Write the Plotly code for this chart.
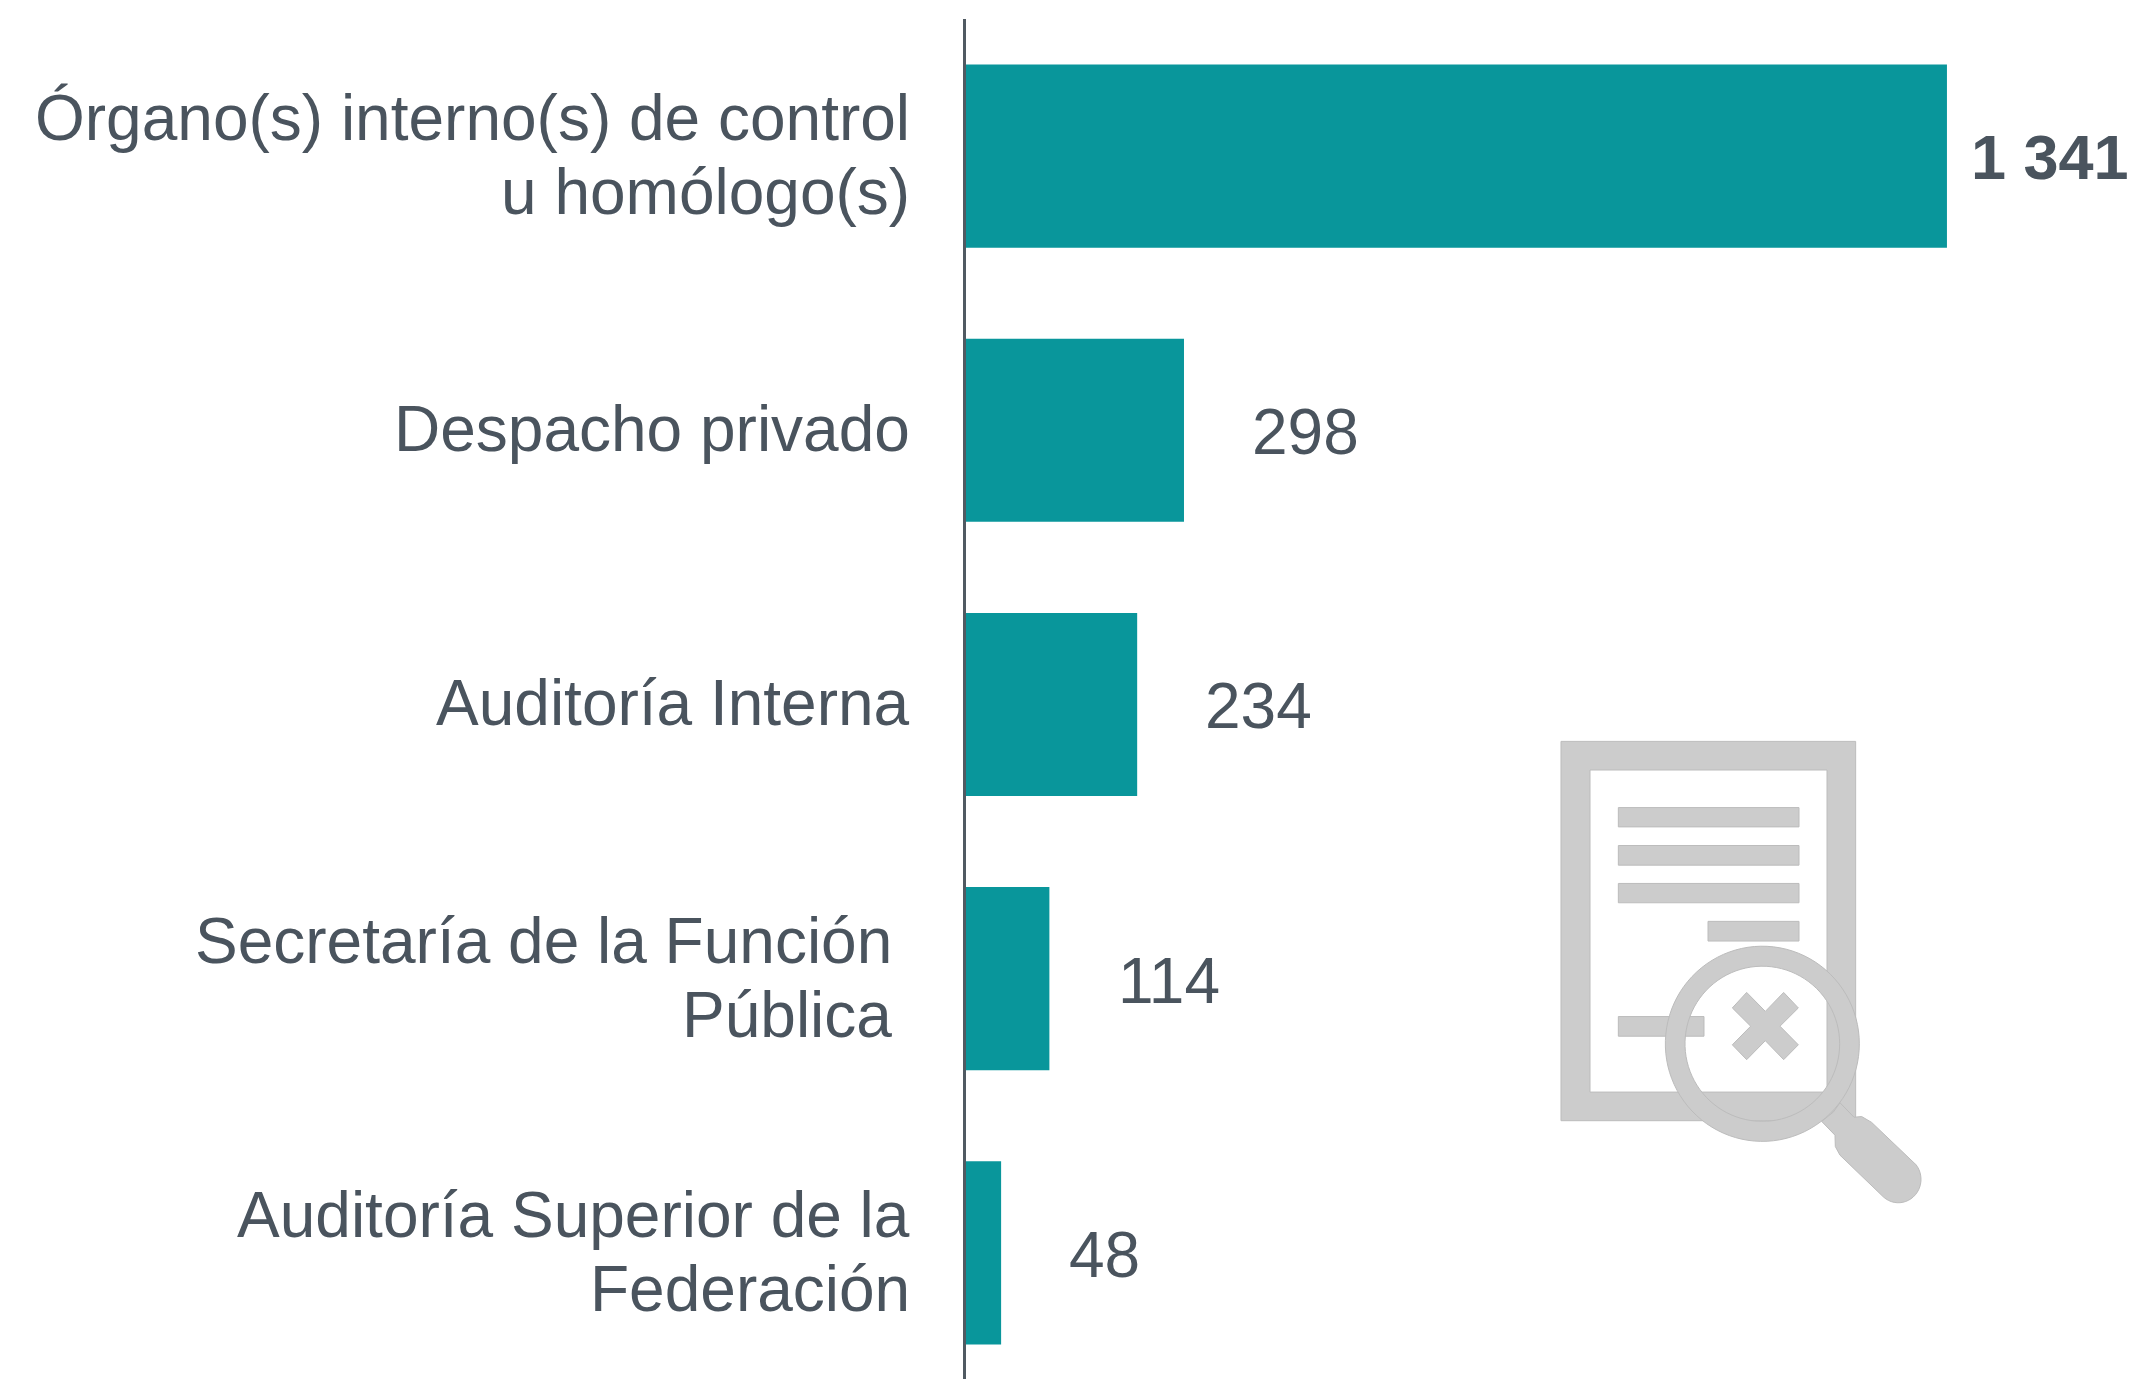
import numpy as np
import plotly.graph_objects as go

categories = ["Órgano(s) interno(s) de control u homólogo(s)", "Despacho privado", "Auditoría Interna",
              "Secretaría de la Función Pública", "Auditoría Superior de la Federación"]
label_lines = [["Órgano(s) interno(s) de control", "u homólogo(s)"], ["Despacho privado"], ["Auditoría Interna"],
               ["Secretaría de la Función", "Pública"], ["Auditoría Superior de la", "Federación"]]
values = [1341, 298, 234, 114, 48]
value_labels = ["1 341", "298", "234", "114", "48"]

W, H = 2137, 1379
PAGE = 8  # default body margin of the page
L, T = 966, 19
TEAL, TXT, GREY, EDGE = "#09969b", "#4a545e", "#cccccc", "#bcbcbc"
FS = 64


def px(x, y):
    return f"{(x - L) / (W - L):.5f},{1 - (y - T) / (H - T):.5f}"


def zpx(x, y):
    return 1500 + x / 3, 700 + y / 2.9


def poly(points):
    return "M" + " L".join(px(x, y) for x, y in points) + " Z"


def rect(x0, y0, x1, y1):
    (a, b), (c, d) = zpx(x0, y0), zpx(x1, y1)
    return poly([(a, b), (c, b), (c, d), (a, d)])


def ellipse(cx, cy, rx, ry, n=96):
    t = np.radians(np.linspace(0, 360, n))
    return [zpx(cx + rx * np.cos(a), cy + ry * np.sin(a)) for a in t]


def icon(path, rule="nonzero"):
    return dict(type="path", xref="paper", yref="paper", path=path, fillcolor=GREY, fillrule=rule,
                line=dict(color=EDGE, width=1), layer="above")


handle = [(1020, 1168), (1062, 1210), (1085, 1208), (1115, 1225), (1245, 1345)]
handle += [(1195 + 68 * np.cos(a), 1390 + 68 * np.sin(a)) for a in np.radians(np.linspace(-40, 130, 24))]
handle += [(1020, 1320), (1006, 1295), (1005, 1262), (965, 1222), (1000, 1195)]
cross = [(740, 848), (796, 903), (851, 848), (895, 893), (840, 946), (895, 1000), (851, 1043), (796, 988),
         (740, 1043), (697, 1000), (752, 946), (697, 893)]

shapes = [
    icon(rect(183, 120, 1067, 1220) + rect(270, 203, 981, 1137), "evenodd"),
    icon(rect(355, 312, 897, 368)),
    icon(rect(355, 422, 897, 479)),
    icon(rect(355, 532, 897, 588)),
    icon(rect(624, 642, 897, 699)),
    icon(rect(355, 918, 612, 975)),
    icon(poly([zpx(*p) for p in cross])),
    icon(poly([zpx(*p) for p in handle])),
    icon(poly(ellipse(787, 997, 291, 283)) + poly(ellipse(787, 997, 232, 225)), "evenodd"),
]

annotations = []
value_shift = [22, 66, 66, 67, 66]
for i, (v, s) in enumerate(zip(values, value_labels)):
    annotations.append(dict(x=v, y=categories[i], text=f"<b>{s}</b>" if i == 0 else s, xref="x", yref="y",
                            xanchor="left", yanchor="middle", xshift=value_shift[i], yshift=-1 if i == 0 else -2,
                            showarrow=False,
                            font=dict(family="Liberation Sans", size=63 if i == 0 else FS, color=TXT)))

label_right = [-54, -54, -54, -72, -54]
for i, lines in enumerate(label_lines):
    offsets = [1] if len(lines) == 1 else [38, -36]
    for line, dy in zip(lines, offsets):
        annotations.append(dict(x=0, y=categories[i], text=line, xref="x", yref="y", xanchor="right",
                                yanchor="middle", xshift=label_right[i], yshift=dy, showarrow=False,
                                font=dict(family="Liberation Sans", size=FS, color=TXT)))

fig = go.Figure(go.Bar(x=values, y=categories, orientation="h", marker=dict(color=TEAL, line=dict(width=0)),
                       width=0.668, hoverinfo="x+y"))
fig.update_layout(
    width=W - PAGE, height=H - PAGE, margin=dict(l=L - PAGE, r=0, t=T - PAGE, b=0, autoexpand=False),
    paper_bgcolor="white", plot_bgcolor="white", showlegend=False, shapes=shapes, annotations=annotations,
    xaxis=dict(range=[0, 1600.8], visible=False),
    yaxis=dict(type="category", categoryorder="array", categoryarray=categories, range=[4.46, -0.5],
               showticklabels=False, ticks="", showgrid=False, zeroline=False, showline=True,
               linecolor="#505a62", linewidth=3),
)
fig.write_html("out.html", config=dict(displayModeBar=False))
